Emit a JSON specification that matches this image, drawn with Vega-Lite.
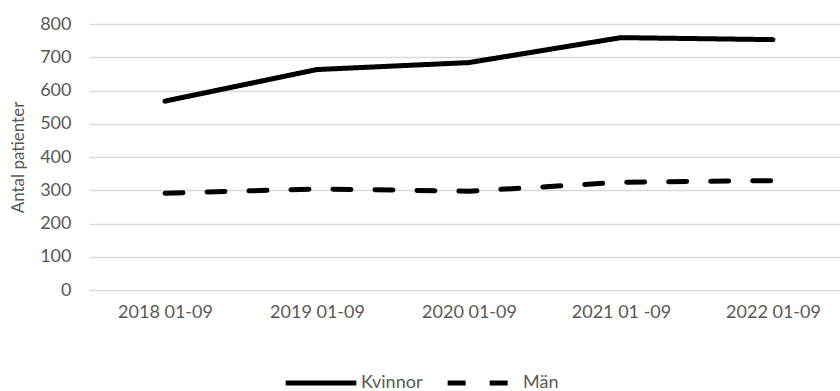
{
  "$schema": "https://vega.github.io/schema/vega-lite/v6.json",
  "autosize": "none",
  "width": 760,
  "height": 266,
  "padding": {"left": 89, "top": 24, "right": 0, "bottom": 101},
  "background": "white",
  "data": {
    "values": [
      {"period": "2018 01-09", "kon": "Kvinnor", "antal": 568},
      {"period": "2019 01-09", "kon": "Kvinnor", "antal": 663},
      {"period": "2020 01-09", "kon": "Kvinnor", "antal": 684},
      {"period": "2021 01 -09", "kon": "Kvinnor", "antal": 759},
      {"period": "2022 01-09", "kon": "Kvinnor", "antal": 753},
      {"period": "2018 01-09", "kon": "Män", "antal": 291},
      {"period": "2019 01-09", "kon": "Män", "antal": 304},
      {"period": "2020 01-09", "kon": "Män", "antal": 297},
      {"period": "2021 01 -09", "kon": "Män", "antal": 324},
      {"period": "2022 01-09", "kon": "Män", "antal": 329}
    ]
  },
  "mark": {"type": "line", "strokeWidth": 5, "strokeCap": "round", "strokeJoin": "round", "color": "black"},
  "encoding": {
    "x": {
      "field": "period", "type": "ordinal", "sort": null, "title": null,
      "scale": {"type": "point", "padding": 0.5},
      "axis": {"labelAngle": 0, "ticks": false, "domain": false, "grid": false, "labelPadding": 13}
    },
    "y": {
      "field": "antal", "type": "quantitative", "title": "Antal patienter",
      "scale": {"domain": [0, 800], "nice": false},
      "axis": {"values": [0, 100, 200, 300, 400, 500, 600, 700, 800], "ticks": false, "domain": false, "labelPadding": 18, "titlePadding": 12, "gridColor": "#d9d9d9", "gridWidth": 1.3}
    },
    "strokeDash": {
      "field": "kon", "type": "nominal", "title": null,
      "scale": {"domain": ["Kvinnor", "Män"], "range": [[1, 0], [18, 24]]},
      "legend": {"orient": "none", "legendX": 194, "legendY": 321, "padding": 0, "direction": "horizontal", "symbolType": "stroke", "symbolSize": 5000, "symbolStrokeWidth": 5, "symbolStrokeColor": "black", "labelOffset": 2, "columnPadding": 14}
    }
  },
  "config": {
    "view": {"stroke": null},
    "font": "Lato",
    "axis": {"labelFont": "Lato", "labelFontSize": 18, "labelColor": "#595959", "titleFont": "Lato", "titleFontSize": 17, "titleColor": "#595959", "titleFontWeight": "normal"},
    "legend": {"labelFont": "Lato", "labelFontSize": 18, "labelColor": "#595959"}
  }
}
